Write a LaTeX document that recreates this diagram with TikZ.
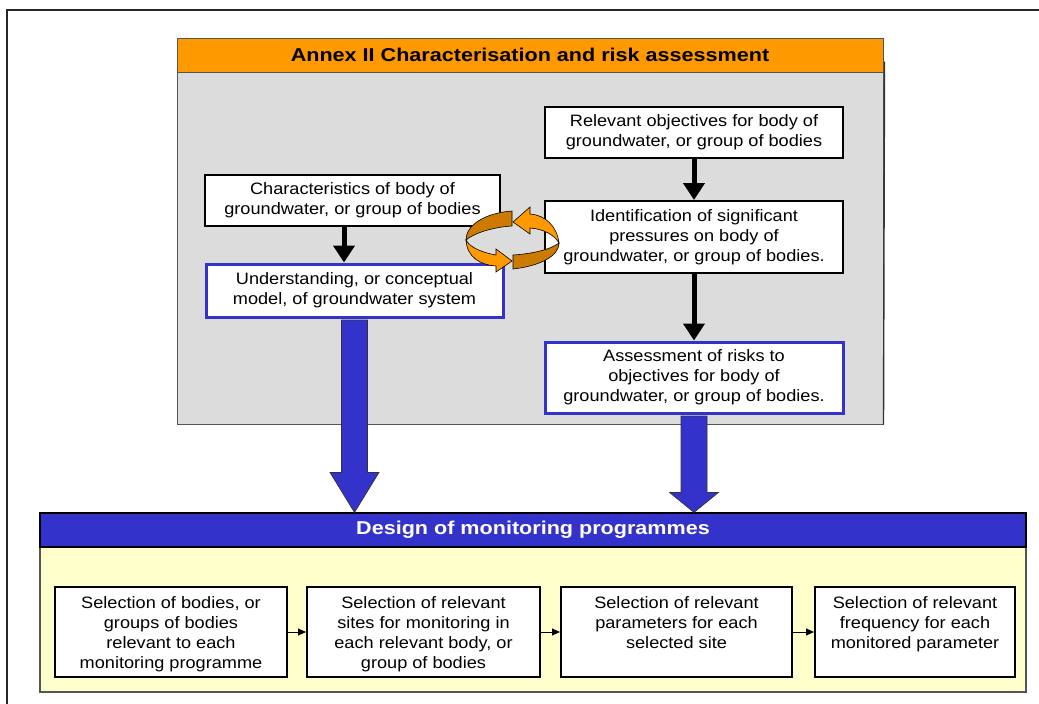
\documentclass[tikz,border=0pt]{standalone}
\usepackage{fontspec}
\setmainfont{Liberation Sans}[FakeStretch=1.1]
\newfontfamily\headfont{Liberation Sans}[FakeStretch=1.16]
\usetikzlibrary{arrows.meta,calc}

\definecolor{annexorange}{HTML}{FF9900}
\definecolor{ringdark}{HTML}{CC7A00}
\definecolor{panelgray}{HTML}{DCDCDC}
\definecolor{designblue}{HTML}{3333CC}
\definecolor{paleyellow}{HTML}{FFFFCC}
\definecolor{edgegray}{HTML}{555555}

% text of the four selection steps, set from the top of the box
\newcommand\steptext[1]{\parbox[c][70pt][t]{190pt}{\centering #1}}

\begin{document}
\begin{tikzpicture}[x=1pt,y=-1pt,
  boxtext/.style={font=\fontsize{16.5}{20}\selectfont, align=center},
  plainbox/.style={boxtext, draw=black, line width=2pt, fill=white, inner sep=0pt},
  bluebox/.style={plainbox, draw=designblue, line width=3pt},
  stepbox/.style={plainbox, minimum height=90pt},
  headbar/.style={font=\headfont\bfseries\fontsize{18.6}{22}\selectfont, inner sep=0pt},
  flowarrow/.style={line width=5pt, -{Triangle[length=17pt,width=21pt]}},
  steparrow/.style={line width=0.9pt, -{Triangle[length=8pt,width=7pt]}},
  bigarrow/.style={fill=designblue, draw=black!80, line width=0.7pt, line join=miter},
  ringlight/.style={fill=annexorange, draw=black, line width=0.6pt},
  ringshade/.style={fill=ringdark, draw=black, line width=0.6pt},
]
\useasboundingbox (0,0) rectangle (1039,704);

% outer frame (open to the right and bottom)
\draw[line width=2pt, black!85] (7,704) -- (7,10) -- (1039,10);

% Annex II panel
\node[fill=panelgray, draw=edgegray, line width=1pt, minimum width=706pt, minimum height=352pt, inner sep=0pt]
  (annexbody) at (530,248) {};
\draw[line width=1.4pt, black!80] (annexbody.north east) ++(1,-10) -- (annexbody.south east);
\node[headbar, fill=annexorange, draw=edgegray, line width=1pt, minimum width=706pt, minimum height=34pt]
  (annexhead) at (530,55) {Annex II Characterisation and risk assessment};

% Design panel
\node[fill=paleyellow, draw=edgegray, line width=1.2pt, minimum width=986pt, minimum height=145pt, inner sep=0pt]
  (designbody) at (533,619.5) {};
\node[headbar, text=white, fill=designblue, draw=black, line width=1.2pt, minimum width=986pt, minimum height=34pt]
  (dhead) at (533,530) {Design of monitoring programmes};

% boxes inside the Annex II panel
\node[plainbox, minimum width=295pt, minimum height=51pt] (char) at (352.5,200.5)
  {Characteristics of body of\\groundwater, or group of bodies};
\node[bluebox, minimum width=297pt, minimum height=53pt] (und) at (354.5,290.5)
  {Understanding, or conceptual\\model, of groundwater system};
\node[plainbox, minimum width=298pt, minimum height=51pt] (rel) at (694,132.5)
  {Relevant objectives for body of\\groundwater, or group of bodies};
\node[plainbox, minimum width=298pt, minimum height=72pt] (ident) at (694,237)
  {Identification of significant\\pressures on body of\\groundwater, or group of bodies.};
\node[bluebox, minimum width=298pt, minimum height=71pt] (assess) at (694,377.5)
  {Assessment of risks to\\objectives for body of\\groundwater, or group of bodies.};

% selection steps
\node[stepbox, minimum width=232pt] (s1) at (171,632)
  {\steptext{Selection of bodies, or\\groups of bodies\\relevant to each\\monitoring programme}};
\node[stepbox, minimum width=233pt] (s2) at (423.5,632)
  {\steptext{Selection of relevant\\sites for monitoring in\\each relevant body, or\\group of bodies}};
\node[stepbox, minimum width=231pt] (s3) at (676.5,632)
  {\steptext{Selection of relevant\\parameters for each\\selected site}};
\node[stepbox, minimum width=200pt] (s4) at (915,632)
  {\steptext{Selection of relevant\\frequency for each\\monitored parameter}};

% broad arrows into the design panel
\coordinate (ltip) at (und.south |- dhead.north);
\coordinate (rtip) at (assess.south |- dhead.north);
\draw[bigarrow] ($(und.south)+(-13,1.5)$) -- ($(ltip)+(-13,-40)$) -- ($(ltip)+(-24.5,-40)$)
  -- (ltip) -- ($(ltip)+(24.5,-40)$) -- ($(ltip)+(13,-40)$) -- ($(und.south)+(13,1.5)$) -- cycle;
\draw[bigarrow] ($(assess.south)+(-13,1.5)$) -- ($(rtip)+(-13,-20)$) -- ($(rtip)+(-24.5,-20)$)
  -- (rtip) -- ($(rtip)+(24.5,-20)$) -- ($(rtip)+(13,-20)$) -- ($(assess.south)+(13,1.5)$) -- cycle;

% flow arrows inside the Annex II panel
\coordinate (charx) at (344,0);
\draw[flowarrow] (char.south -| charx) -- (und.north -| charx);
\draw[flowarrow] (rel.south) -- (ident.north);
\draw[flowarrow] (ident.south) -- (assess.north);

% arrows between selection steps
\draw[steparrow] (s1.east) -- (s2.west);
\draw[steparrow] (s2.east) -- (s3.west);
\draw[steparrow] (s3.east) -- (s4.west);

% feedback ring between characteristics and pressures
\draw[ringshade] (512,211) .. controls (485,213) and (466,225) .. (466,240)
  .. controls (474,233) and (494,227) .. (512,226) -- cycle;
\draw[ringshade] (513,269) .. controls (540,266) and (559,256) .. (559,243)
  .. controls (550,250) and (530,254) .. (513,255) -- cycle;
\draw[ringlight] (466,240) .. controls (467,257) and (480,265) .. (496,266)
  -- (496,272) -- (512,261) -- (496,249) -- (496,255)
  .. controls (484,253) and (470,248) .. (466,240) -- cycle;
\draw[ringlight] (559,243) .. controls (557,226) and (545,215) .. (530,214)
  -- (530,207) -- (513,222) -- (530,234) -- (530,228)
  .. controls (545,229) and (555,236) .. (559,243) -- cycle;
\end{tikzpicture}
\end{document}
